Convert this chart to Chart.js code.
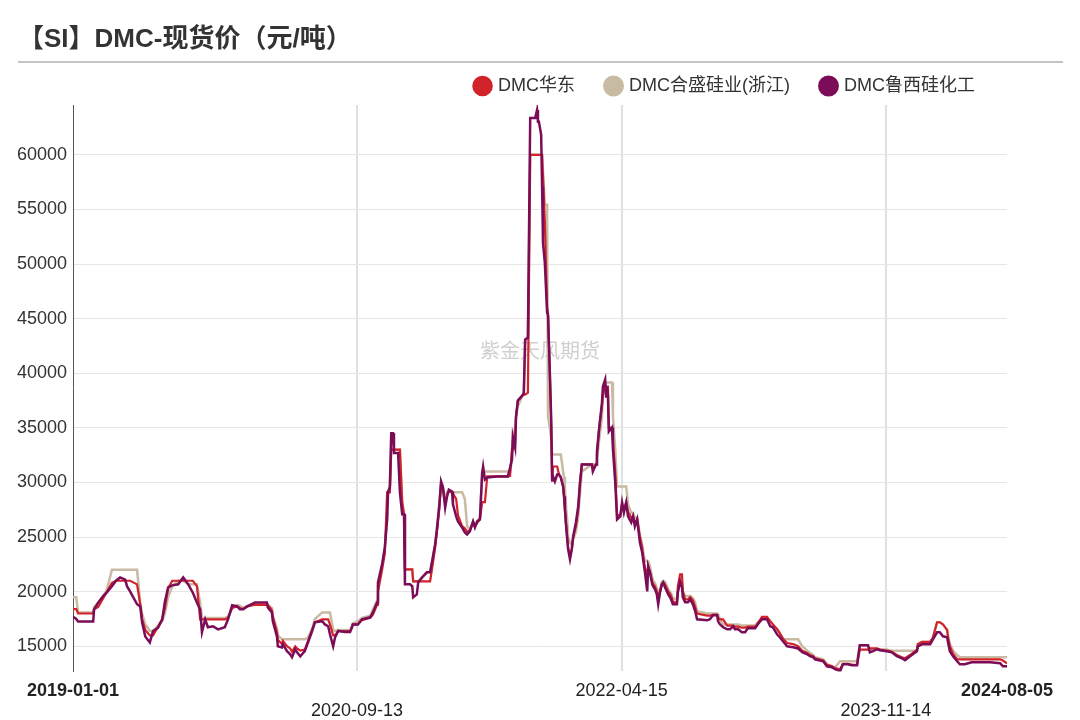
<!DOCTYPE html>
<html><head><meta charset="utf-8">
<script src="https://cdn.jsdelivr.net/npm/chart.js@4.4.1/dist/chart.umd.min.js"></script>
<style>
html,body{margin:0;padding:0;background:#fff;}
#wrap{position:relative;width:1080px;height:720px;overflow:hidden;}
#title{position:absolute;left:18px;top:22px;font:bold 26px "Liberation Sans","Noto Sans CJK SC",sans-serif;color:#333;white-space:nowrap;line-height:32px;}
#sep{position:absolute;left:18px;top:61px;width:1045px;height:2px;background:#c4c4c4;}
canvas{position:absolute;left:0;top:0;}
</style></head><body>
<div id="wrap"><canvas id="c" width="1080" height="720"></canvas><div id="title">【SI】DMC-现货价（元/吨）</div><div id="sep"></div></div>
<script>
const dates = ['2019-01-01','2019-01-08','2019-01-12','2019-02-14','2019-02-16','2019-02-25','2019-03-08','2019-03-16','2019-03-27','2019-04-05',
'2019-04-14','2019-04-25','2019-04-29','2019-05-06','2019-05-21','2019-05-28','2019-06-01','2019-06-08','2019-06-18','2019-06-25',
'2019-07-06','2019-07-15','2019-07-21','2019-07-28','2019-08-06','2019-08-19','2019-08-30','2019-09-10','2019-09-20','2019-09-29',
'2019-10-06','2019-10-10','2019-10-17','2019-10-23','2019-11-03','2019-11-14','2019-11-29','2019-12-06','2019-12-15','2019-12-26',
'2020-01-01','2020-01-08','2020-01-17','2020-02-03','2020-02-29','2020-03-02','2020-03-11','2020-03-13','2020-03-22','2020-03-24',
'2020-04-02','2020-04-04','2020-04-13','2020-04-20','2020-04-24','2020-05-01','2020-05-05','2020-05-12','2020-05-22','2020-05-29',
'2020-06-07','2020-06-13','2020-06-29','2020-07-05','2020-07-12','2020-07-16','2020-07-23','2020-07-27','2020-08-03','2020-08-18',
'2020-08-29','2020-09-02','2020-09-04','2020-09-15','2020-09-24','2020-10-12','2020-10-18','2020-10-27','2020-10-29','2020-11-07',
'2020-11-13','2020-11-18','2020-11-20','2020-11-24','2020-11-27','2020-12-01','2020-12-03','2020-12-12','2020-12-16','2020-12-21',
'2020-12-25','2020-12-27','2021-01-07','2021-01-12','2021-01-14','2021-01-22','2021-01-25','2021-02-02','2021-02-13','2021-02-20',
'2021-02-24','2021-03-03','2021-03-07','2021-03-12','2021-03-16','2021-03-20','2021-03-25','2021-03-29','2021-04-02','2021-04-09',
'2021-04-11','2021-04-18','2021-04-22','2021-05-01','2021-05-07','2021-05-12','2021-05-18','2021-05-25','2021-05-29','2021-06-03',
'2021-06-09','2021-06-14','2021-06-16','2021-06-20','2021-06-25','2021-07-16','2021-08-09','2021-08-14','2021-08-18','2021-08-20',
'2021-08-25','2021-08-27','2021-08-31','2021-09-11','2021-09-13','2021-09-16','2021-09-22','2021-09-27','2021-10-08','2021-10-12',
'2021-10-14','2021-10-16','2021-10-21','2021-10-23','2021-10-25','2021-10-29','2021-11-03','2021-11-05','2021-11-09','2021-11-12',
'2021-11-14','2021-11-16','2021-11-20','2021-11-25','2021-11-29','2021-12-03','2021-12-08','2021-12-10','2021-12-12','2021-12-14',
'2021-12-17','2021-12-19','2021-12-23','2021-12-27','2021-12-30','2022-01-05','2022-01-10','2022-01-14','2022-01-18','2022-02-09',
'2022-02-11','2022-02-18','2022-02-20','2022-02-25','2022-03-03','2022-03-05','2022-03-10','2022-03-12','2022-03-14','2022-03-16',
'2022-03-18','2022-03-25','2022-03-27','2022-04-01','2022-04-05','2022-04-12','2022-04-16','2022-04-20','2022-04-25','2022-04-29',
'2022-05-06','2022-05-10','2022-05-14','2022-05-19','2022-05-25','2022-05-30','2022-06-01','2022-06-05','2022-06-10','2022-06-12',
'2022-06-16','2022-06-21','2022-06-23','2022-06-27','2022-07-01','2022-07-04','2022-07-08','2022-07-12','2022-07-15','2022-07-19',
'2022-07-23','2022-07-26','2022-07-30','2022-08-03','2022-08-05','2022-08-14','2022-08-16','2022-08-21','2022-08-25','2022-08-27',
'2022-09-01','2022-09-07','2022-09-12','2022-09-18','2022-09-23','2022-09-27','2022-10-19','2022-10-25','2022-11-01','2022-11-10',
'2022-11-12','2022-11-16','2022-11-23','2022-12-02','2022-12-08','2022-12-15','2022-12-19','2022-12-26','2023-01-03','2023-01-10',
'2023-01-16','2023-02-01','2023-02-07','2023-02-16','2023-02-27','2023-03-06','2023-03-12','2023-03-21','2023-03-27','2023-04-03',
'2023-04-12','2023-04-25','2023-05-06','2023-05-15','2023-05-26','2023-06-01','2023-06-08','2023-06-12','2023-06-30','2023-07-08',
'2023-07-19','2023-07-26','2023-08-06','2023-08-12','2023-08-23','2023-09-01','2023-09-12','2023-09-18','2023-10-06','2023-10-10',
'2023-10-17','2023-10-26','2023-11-01','2023-11-16','2023-11-27','2023-12-08','2023-12-19','2023-12-26','2024-01-06','2024-01-21',
'2024-01-23','2024-02-01','2024-02-19','2024-02-25','2024-03-05','2024-03-11','2024-03-18','2024-03-27','2024-03-29','2024-04-02',
'2024-04-09','2024-04-18','2024-04-24','2024-05-05','2024-05-12','2024-05-20','2024-06-29','2024-07-21','2024-07-27','2024-08-05'];

// DMC华东
const huadong = [18400,18400,18000,18000,18380,18600,19400,20000,20800,21000,
21000,21000,21000,21000,20670,18800,17500,16500,16000,16000,
16800,17500,18500,20300,21000,21000,21000,21000,21000,20500,
17470,17470,17470,17470,17470,17470,17470,17600,18500,18650,
18500,18400,18650,18800,18800,18800,18300,17700,16300,15600,
15200,15500,15000,14800,14500,15000,14800,14600,14700,15500,
16500,17200,17470,17470,17470,17000,16000,16000,16400,16400,
16400,16700,17000,17000,17400,17600,17900,18800,20000,22000,
23500,29100,29100,29100,33000,33000,33000,33000,33000,28200,
27100,22040,22040,22040,20950,20950,20950,20950,20950,20950,
22000,24000,25500,27500,29800,29500,28000,28800,29200,29100,
29100,28500,27000,26000,25800,25500,25600,26300,26000,26300,
26600,28200,28200,28200,30550,30550,30550,30600,33000,33000,
33500,36000,37500,38050,38050,38050,38230,60000,60000,60000,
60000,60000,60000,60000,60000,54000,46000,45500,40000,35000,
30100,31460,31460,31460,30730,30460,29630,28720,27530,26340,
25000,24000,23400,23870,25000,26000,27500,30000,31650,31650,
31300,31650,32500,35030,37000,38000,38780,38780,38780,38780,
35030,35030,35030,31000,27000,27000,28000,27500,28170,27300,
26800,26900,26300,26620,25000,24000,23300,22200,21500,22320,
21770,20900,20700,20500,20000,19500,20000,20670,20850,20670,
20300,20000,19800,19400,19100,19000,20500,21590,21590,20000,
19300,19300,19500,19200,18600,18000,17800,17800,17900,17900,
17600,17470,17470,16900,16900,16900,16800,16800,16700,16700,
16800,16800,17100,17700,17700,17300,17000,16600,16200,15700,
15300,15200,15000,14600,14400,14200,14100,13900,13700,13300,
13200,13000,12900,13400,13400,13300,13300,14700,14700,14800,
14800,14800,14700,14600,14500,14200,14000,13900,14200,14700,
15200,15400,15400,15800,17200,17200,17000,16500,15800,15000,
14300,13810,13810,13810,13810,13810,13810,13810,13700,13450];

// DMC合盛硅业(浙江)
const hesheng = [19500,19500,18100,18100,18600,19000,19600,20200,22000,22000,
22000,22000,22000,22000,22000,19000,18000,17000,16400,16400,
16900,17300,18000,19500,20500,21000,21000,20670,20670,20670,
19000,17600,17600,17600,17600,17600,17600,17700,18500,18800,
18700,18500,18700,18800,18800,18800,18500,17800,16600,16000,
15640,15640,15640,15640,15640,15640,15640,15640,15640,15800,
16600,17500,18100,18100,18100,18100,16500,16400,16500,16500,
16500,16800,17100,17300,17600,17800,18400,19200,20500,22300,
24000,26800,29100,29600,33000,33000,33000,33000,33000,28200,
27100,22040,22040,22040,20950,20950,20950,21200,21770,21770,
22680,24300,25800,28000,29800,29500,28500,29100,29100,29100,
29100,29100,29100,29100,28500,26000,25700,26400,26000,26500,
26700,31000,31000,31000,31000,31000,31000,31000,32000,34000,
35000,36000,37000,38000,38200,43000,43260,60000,60000,60000,
60000,60000,60000,60000,60000,55420,55420,36000,35000,34000,
32560,32560,32560,32560,32560,32560,31000,30500,29500,28000,
26500,25000,24500,24200,24790,25500,26800,29000,31000,31650,
31650,31650,32000,34000,36000,38000,38800,39150,39150,39150,
39150,39150,36040,33000,29630,29630,29630,29630,29630,28000,
27200,27200,26800,26800,25200,24300,23700,22800,22800,22800,
22300,21300,21000,20800,20300,20000,20200,20900,21000,20900,
20500,20200,20000,19700,19400,19300,20000,21000,20800,20000,
19600,19600,19600,19400,19000,18200,18000,18000,18000,18000,
17900,17500,17000,17000,17000,17000,17000,17000,16900,16900,
16900,16900,17200,17500,17600,17300,17000,16500,16200,15640,
15640,15640,15640,15000,14600,14400,14200,14000,13800,13400,
13100,13080,13630,13630,13630,13630,13630,15090,15090,14700,
14700,14700,14700,14700,14600,14600,14600,14600,14600,14600,
15200,15400,15400,15800,17200,17200,17010,16500,16000,15200,
14600,14200,14000,14000,14000,14000,14000,14000,14000,14000];

// DMC鲁西硅化工
const luxi = [17700,17500,17260,17260,18380,19000,19600,19940,20500,21000,
21300,21100,20500,20000,18850,18650,17200,15900,15350,16400,
16700,17450,19100,20400,20580,20670,21300,20670,19900,19000,
18380,16280,17470,16740,16830,16550,16740,17470,18750,18650,
18380,18380,18650,19000,19000,18560,18100,17300,15900,15000,
14900,15200,14550,14270,14000,14730,14450,14090,14550,15370,
16400,17200,17300,17000,16830,16100,15000,15800,16400,16300,
16300,16740,17000,17000,17470,17650,18100,19000,20850,22500,
24050,26600,29100,29600,34500,34500,32700,32700,29100,27100,
27100,20670,20670,20500,19480,19750,20850,21300,21770,21770,
22680,24330,25700,27800,30100,29600,27700,28700,29350,29180,
27990,26900,26430,25880,25430,25240,25520,26430,25880,26430,
26620,30900,31460,30270,30450,30550,30550,31370,32100,34200,
33200,36040,37500,38000,38200,43080,43260,63380,63380,64100,
63020,63020,61830,57070,51950,50120,45550,45300,40060,35760,
30100,30550,30100,30730,30730,30460,29630,28720,27530,26340,
24790,23870,22960,23870,25060,26340,27800,30000,31650,31650,
31000,31650,32830,35030,37300,38780,39420,37860,38780,38050,
34660,35030,33020,30000,26620,26900,28170,27250,28170,26900,
26340,26900,25970,26620,24510,23600,22960,21770,20030,22320,
21770,20670,20490,20210,19750,18840,19940,20670,20850,20390,
20030,19750,19480,19110,18840,18840,19940,20950,20390,19480,
19020,19020,19300,18840,18200,17470,17380,17470,17840,17840,
17290,17010,16740,16550,16550,16830,16550,16550,16280,16280,
16650,16650,17010,17470,17470,16830,16740,16100,15830,15460,
15000,14910,14800,14450,14270,14090,14000,13810,13630,13170,
13080,12900,12710,13350,13350,13260,13260,15090,15090,14450,
14550,14730,14640,14550,14450,14090,13900,13720,14090,14550,
15000,15180,15180,15640,16280,16280,15910,15830,15370,14550,
14090,13630,13350,13350,13450,13540,13540,13450,13170,13170];

const seriesNames = ['DMC华东','DMC合盛硅业(浙江)','DMC鲁西硅化工'];
const seriesColors = ['#d2232a','#c9baa3','#7b0c57'];
const tickDates = ['2019-01-01','2020-09-13','2022-04-15','2023-11-14','2024-08-05'];
const yTicks = [15000,20000,25000,30000,35000,40000,45000,50000,55000,60000];

const FONT = '"Liberation Sans", "Noto Sans CJK SC", sans-serif';
const DAY = 86400000, T0 = Date.UTC(2019,0,1);
function dayNum(s){ const p = s.split('-').map(Number); return (Date.UTC(p[0],p[1]-1,p[2]) - T0) / DAY; }
const xs = dates.map(dayNum);
const toPts = arr => arr.map((v,i) => ({x: xs[i], y: v}));
const lastTick = tickDates.length - 1;

const watermark = {
  id: 'watermark',
  beforeDatasetsDraw(chart){
    const c = chart.ctx;
    c.save();
    c.font = '20px ' + FONT;
    c.fillStyle = 'rgba(175,175,175,0.6)';
    c.textAlign = 'center';
    c.textBaseline = 'middle';
    c.fillText('紫金天风期货', (chart.chartArea.left + chart.chartArea.right) / 2, 352);
    c.restore();
  }
};

Chart.defaults.font.family = FONT;

new Chart(document.getElementById('c'), {
  type: 'line',
  data: {
    datasets: [
      {label: seriesNames[0], data: toPts(huadong), borderColor: seriesColors[0], backgroundColor: seriesColors[0], borderWidth: 2.2, order: 1},
      {label: seriesNames[1], data: toPts(hesheng), borderColor: seriesColors[1], backgroundColor: seriesColors[1], borderWidth: 2.5, order: 2},
      {label: seriesNames[2], data: toPts(luxi), borderColor: seriesColors[2], backgroundColor: seriesColors[2], borderWidth: 2.5, order: 0}
    ]
  },
  options: {
    responsive: false,
    animation: false,
    devicePixelRatio: 1,
    elements: {point: {radius: 0, hoverRadius: 0}, line: {tension: 0}},
    layout: {padding: {left: 11, right: 73, top: 45, bottom: -11}},
    plugins: {
      legend: {
        position: 'top', align: 'end',
        labels: {usePointStyle: true, pointStyle: 'circle', boxWidth: 13, boxHeight: 13, padding: 32,
                 color: '#333', font: {size: 18}, sort: (a,b) => a.datasetIndex - b.datasetIndex}
      },
      tooltip: {enabled: false},
      title: {display: false}
    },
    scales: {
      x: {
        type: 'linear', min: 0, max: dayNum(tickDates[lastTick]),
        afterBuildTicks: s => { s.ticks = tickDates.map(d => ({value: dayNum(d)})); },
        ticks: {
          autoSkip: false, maxRotation: 0, minRotation: 0, padding: 10, color: '#222',
          font: ctx => ({size: 18, lineHeight: 1.1, weight: (ctx.index === 0 || ctx.index === lastTick) ? 'bold' : 'normal'}),
          callback: (v, i) => (i % 2 === 1) ? ['', tickDates[i]] : tickDates[i]
        },
        grid: {drawTicks: false, lineWidth: 2, color: ctx => (ctx.index === 0 || ctx.index === lastTick) ? 'rgba(0,0,0,0)' : '#e0e0e0'},
        border: {display: false}
      },
      y: {
        min: 12700, max: 64560,
        afterBuildTicks: s => { s.ticks = yTicks.map(v => ({value: v})); },
        ticks: {padding: 6, color: '#333', font: {size: 18}, callback: v => String(v)},
        grid: {drawTicks: false, color: '#e6e6e6', lineWidth: 1},
        border: {display: true, color: '#555', width: 1}
      }
    }
  },
  plugins: [watermark]
});
</script>
</body></html>
